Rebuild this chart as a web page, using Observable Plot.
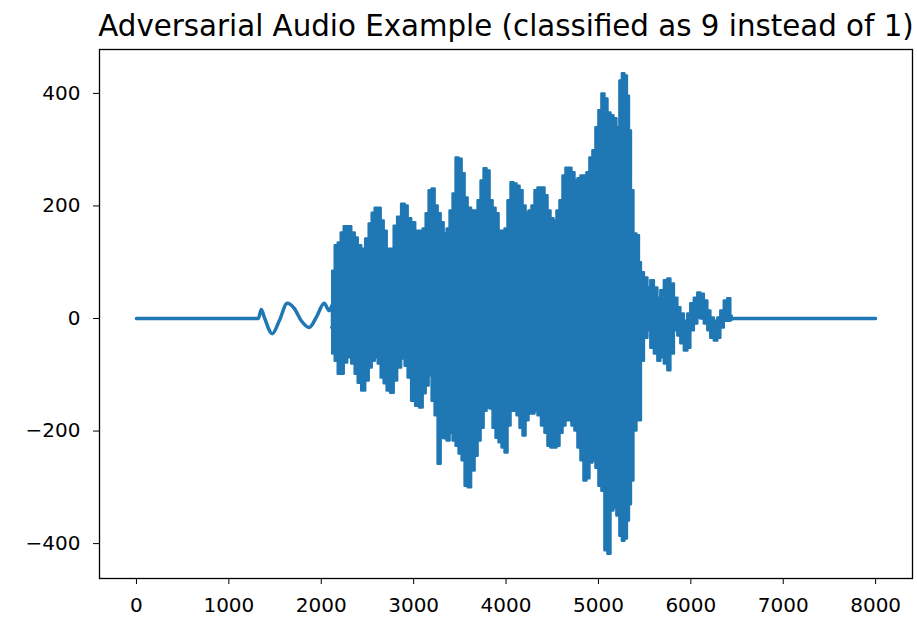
<!DOCTYPE html>
<html>
<head>
<meta charset="utf-8">
<script src="https://cdn.jsdelivr.net/npm/d3@7"></script>
<script src="https://cdn.jsdelivr.net/npm/@observablehq/plot@0.6"></script>
<style>
  html, body { margin: 0; padding: 0; background: white; }
  #chart svg { display: block; }
</style>
</head>
<body>
<div id="chart"></div>
<script>
const titleText = "Adversarial Audio Example (classified as 9 instead of 1)";
const xTicks = [0, 1000, 2000, 3000, 4000, 5000, 6000, 7000, 8000];
const yTicks = [-400, -200, 0, 200, 400];

// Sparse parts of the waveform (drawn as a line)
const headSample = [0, 1319, 1351, 1384, 1470, 1546, 1632, 1708, 1784, 1870, 1946, 2032, 2086, 2108];
const headValue  = [0, 0, 16, 2, -27, -4, 27, 18, -4, -16, 2, 27, 14, 20];
const endSample  = [6443, 7999];
const endValue   = [0, 0];

// Envelope of the dense part: sample index, upper and lower edge
const envSample = [2108,2130,2162,2195,2227,2259,2303,2346,2378,2411,
  2454,2497,2530,2562,2595,2627,2659,2692,2724,2768,
  2800,2843,2886,2919,2951,2995,3038,3081,3114,3146,
  3178,3211,3243,3276,3308,3341,3373,3405,3438,3470,
  3503,3535,3568,3600,3643,3676,3708,3741,3773,3805,
  3838,3870,3903,3935,3968,4000,4032,4065,4097,4130,
  4162,4195,4227,4259,4292,4324,4357,4400,4432,4465,
  4497,4530,4562,4595,4627,4659,4692,4724,4757,4789,
  4822,4854,4886,4919,4951,4984,5016,5049,5081,5114,
  5146,5178,5211,5243,5265,5297,5319,5341,5362,5395,
  5427,5449,
  5470,5514,5546,5578,5622,5654,5686,5730,5762,5795,
  5838,5870,5903,5946,5978,6011,6054,6086,6119,6162,
  6195,6227,6270,6303,6335,6378,6411,6443];
const envUpper = [23,85,130,135,153,164,164,153,144,130,
  124,142,169,188,197,197,174,156,124,124,
  165,181,204,201,178,171,156,156,160,187,
  228,231,201,187,171,151,160,192,222,286,
  284,258,215,197,192,192,210,245,267,263,
  210,197,187,156,156,160,210,242,240,236,
  228,201,188,192,201,228,233,233,219,192,
  178,174,192,210,254,268,268,260,245,249,
  254,254,260,286,299,340,370,400,391,366,
  361,356,340,423,436,432,396,334,228,151,
  148,100,
  82,73,55,68,55,37,50,68,71,62,
  37,20,9,-4,9,27,37,46,44,32,
  14,2,-4,2,14,32,36,5];
const envLower = [-16,-62,-75,-98,-98,-78,-69,-80,-98,-114,
  -128,-110,-87,-75,-69,-80,-105,-115,-128,-132,
  -110,-87,-71,-84,-105,-146,-155,-158,-133,-119,
  -101,-146,-172,-258,-212,-213,-217,-203,-217,-226,
  -240,-252,-297,-300,-270,-244,-217,-194,-164,-158,
  -160,-194,-212,-220,-229,-238,-190,-164,-164,-172,
  -194,-208,-181,-169,-169,-164,-172,-190,-203,-226,
  -229,-229,-226,-203,-190,-181,-181,-190,-199,-229,
  -252,-288,-284,-256,-252,-265,-297,-306,-412,-418,
  -341,-336,-350,-386,-395,-391,-359,-330,-288,-199,
  -181,-181,
  -75,-34,-21,-52,-62,-75,-69,-80,-92,-62,
  -21,-30,-44,-57,-52,-21,-9,2,0,-9,
  -21,-34,-39,-34,-16,-4,-4,-2];

const color = "#1f77b4";

const lineData = [
  ...headSample.map((s, i) => ({s, v: headValue[i], part: "head"})),
  ...endSample.map((s, i) => ({s, v: endValue[i], part: "end"}))
];
const envData = envSample.map((s, i) => ({s, hi: envUpper[i], lo: envLower[i]}));

const fmtY = d => d < 0 ? "\u2212" + Math.abs(d) : String(d);

const chart = Plot.plot({
  width: 917,
  height: 618,
  marginLeft: 99,
  marginRight: 5,
  marginTop: 49,
  marginBottom: 40,
  style: {fontFamily: "'DejaVu Sans', sans-serif", fontSize: "20px", color: "black", background: "white", overflow: "visible"},
  x: {domain: [-400, 8399], ticks: xTicks, tickFormat: d => String(d), tickSize: 6, tickPadding: 13, label: null},
  y: {domain: [-462, 478], ticks: yTicks, tickFormat: fmtY, tickSize: 6, tickPadding: 13, label: null},
  marks: [
    Plot.areaY(envData, {x: "s", y1: "lo", y2: "hi", curve: "step", fill: color}),
    Plot.line(envData, {x: "s", y: "hi", curve: "step", stroke: color, strokeWidth: 2.5}),
    Plot.line(envData, {x: "s", y: "lo", curve: "step", stroke: color, strokeWidth: 2.5}),
    Plot.line(lineData, {x: "s", y: "v", z: "part", stroke: color, strokeWidth: 3.5, curve: "monotone-x"}),
    Plot.frame({stroke: "black", strokeWidth: 1.3}),
    Plot.text([titleText], {text: d => d, frameAnchor: "top", dy: -14, lineAnchor: "bottom", fontSize: 29.3, fill: "black"})
  ]
});
document.getElementById("chart").appendChild(chart);
</script>
</body>
</html>
